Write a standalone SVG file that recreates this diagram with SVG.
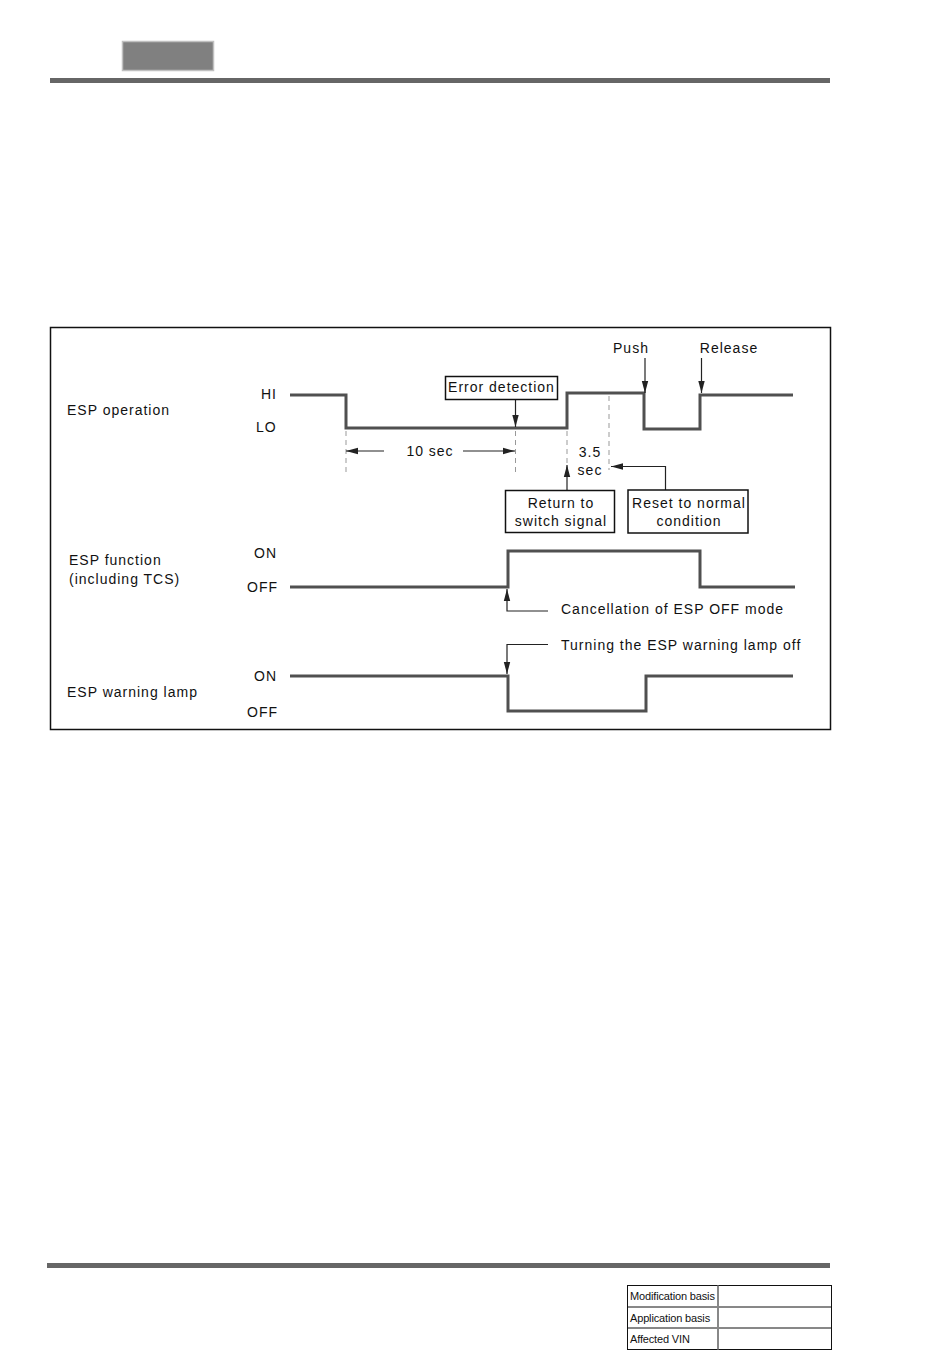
<svg xmlns="http://www.w3.org/2000/svg" width="950" height="1360" viewBox="0 0 950 1360">
<defs>
<marker id="ah" viewBox="0 0 12 8" refX="12" refY="4" markerWidth="12" markerHeight="8" markerUnits="userSpaceOnUse" orient="auto">
<path d="M0,0.8 L12,4 L0,7.2 Z" fill="#222"/>
</marker>
<style>
.t{font-family:"Liberation Sans",Arial,sans-serif;font-size:14px;letter-spacing:1px;fill:#111;}
.tc{text-anchor:middle;}
.sig{fill:none;stroke:#505050;stroke-width:3;}
.ar{fill:none;stroke:#222;stroke-width:1.2;marker-end:url(#ah);}
.dash{fill:none;stroke:#999;stroke-width:1;stroke-dasharray:5,4;}
.box{fill:#fff;stroke:#111;stroke-width:1.5;}
.tb{font-family:"Liberation Sans",Arial,sans-serif;font-size:11px;letter-spacing:-0.15px;fill:#111;}
</style>
</defs>
<rect width="950" height="1360" fill="#fff"/>
<g id="header">
<rect x="122.5" y="41.5" width="91" height="29" fill="#808080" stroke="#c0c0c0" stroke-width="1.5"/>
<rect x="50" y="78" width="780" height="5" fill="#666"/>
</g>
<g id="frame">
<rect x="50.5" y="327.5" width="780" height="402" fill="none" stroke="#111" stroke-width="1.5"/>
</g>
<g id="labels">
<text class="t" x="67" y="415">ESP operation</text>
<text class="t" x="261" y="399">HI</text>
<text class="t" x="256" y="432">LO</text>
<text class="t" x="69" y="565">ESP function</text>
<text class="t" x="69" y="584">(including TCS)</text>
<text class="t" x="254" y="558">ON</text>
<text class="t" x="247" y="592">OFF</text>
<text class="t" x="67" y="697">ESP warning lamp</text>
<text class="t" x="254" y="681">ON</text>
<text class="t" x="247" y="717">OFF</text>
</g>
<g id="signals">
<path id="sig-operation" class="sig" d="M290,395 H346 V428 H567 V393 H644 V429 H700 V395 H793"/>
<path id="sig-function" class="sig" d="M290,587 H508 V551 H700 V587 H795"/>
<path id="sig-lamp" class="sig" d="M290,676 H508 V711 H646 V676 H793"/>
</g>
<g id="connectors">
<line class="dash" x1="346" y1="431" x2="346" y2="472"/>
<line class="dash" x1="515.5" y1="431" x2="515.5" y2="472"/>
<line class="dash" x1="567" y1="431" x2="567" y2="470"/>
<line class="dash" x1="609" y1="396" x2="609" y2="470"/>
<line class="ar" x1="384" y1="451" x2="346" y2="451"/>
<line class="ar" x1="463" y1="451" x2="515" y2="451"/>
<line class="ar" x1="515.5" y1="400" x2="515.5" y2="427"/>
<line class="ar" x1="645" y1="358" x2="645" y2="393"/>
<line class="ar" x1="701.5" y1="358" x2="701.5" y2="393"/>
<line class="ar" x1="567" y1="491" x2="567" y2="465"/>
<path class="ar" d="M665.5,490 V466.5 H611"/>
<path class="ar" d="M548,611 H507 V589" stroke-width="2"/>
<path class="ar" d="M548,644.5 H507 V674"/>
</g>
<g id="node-error">
<rect class="box" x="445.5" y="376.5" width="112" height="23"/>
<text class="t tc" x="501.5" y="392">Error detection</text>
</g>
<g id="node-push"><text class="t tc" x="631" y="353">Push</text></g>
<g id="node-release"><text class="t tc" x="729" y="353">Release</text></g>
<g id="node-10sec"><text class="t tc" x="430" y="456">10 sec</text></g>
<g id="node-35sec">
<text class="t tc" x="590" y="457">3.5</text>
<text class="t tc" x="590" y="475">sec</text>
</g>
<g id="node-return">
<rect class="box" x="505.5" y="490.5" width="109" height="42"/>
<text class="t tc" x="561" y="508">Return to</text>
<text class="t tc" x="561" y="526">switch signal</text>
</g>
<g id="node-reset">
<rect class="box" x="628" y="490" width="120" height="43" stroke-width="2.2"/>
<text class="t tc" x="689" y="508">Reset to normal</text>
<text class="t tc" x="689" y="526">condition</text>
</g>
<g id="node-cancel"><text class="t" x="561" y="614">Cancellation of ESP OFF mode</text></g>
<g id="node-turning"><text class="t" x="561" y="650">Turning the ESP warning lamp off</text></g>
<g id="footer">
<rect x="47" y="1263" width="783" height="5" fill="#666"/>
<rect x="627.5" y="1285.5" width="204" height="64" fill="none" stroke="#111" stroke-width="1"/>
<line x1="627.5" y1="1307" x2="831.5" y2="1307" stroke="#111" stroke-width="1"/>
<line x1="627.5" y1="1328" x2="831.5" y2="1328" stroke="#111" stroke-width="1"/>
<line x1="718" y1="1285.5" x2="718" y2="1349.5" stroke="#888" stroke-width="2"/>
<text class="tb" x="630" y="1300">Modification basis</text>
<text class="tb" x="630" y="1322">Application basis</text>
<text class="tb" x="630" y="1343">Affected VIN</text>
</g>
</svg>
